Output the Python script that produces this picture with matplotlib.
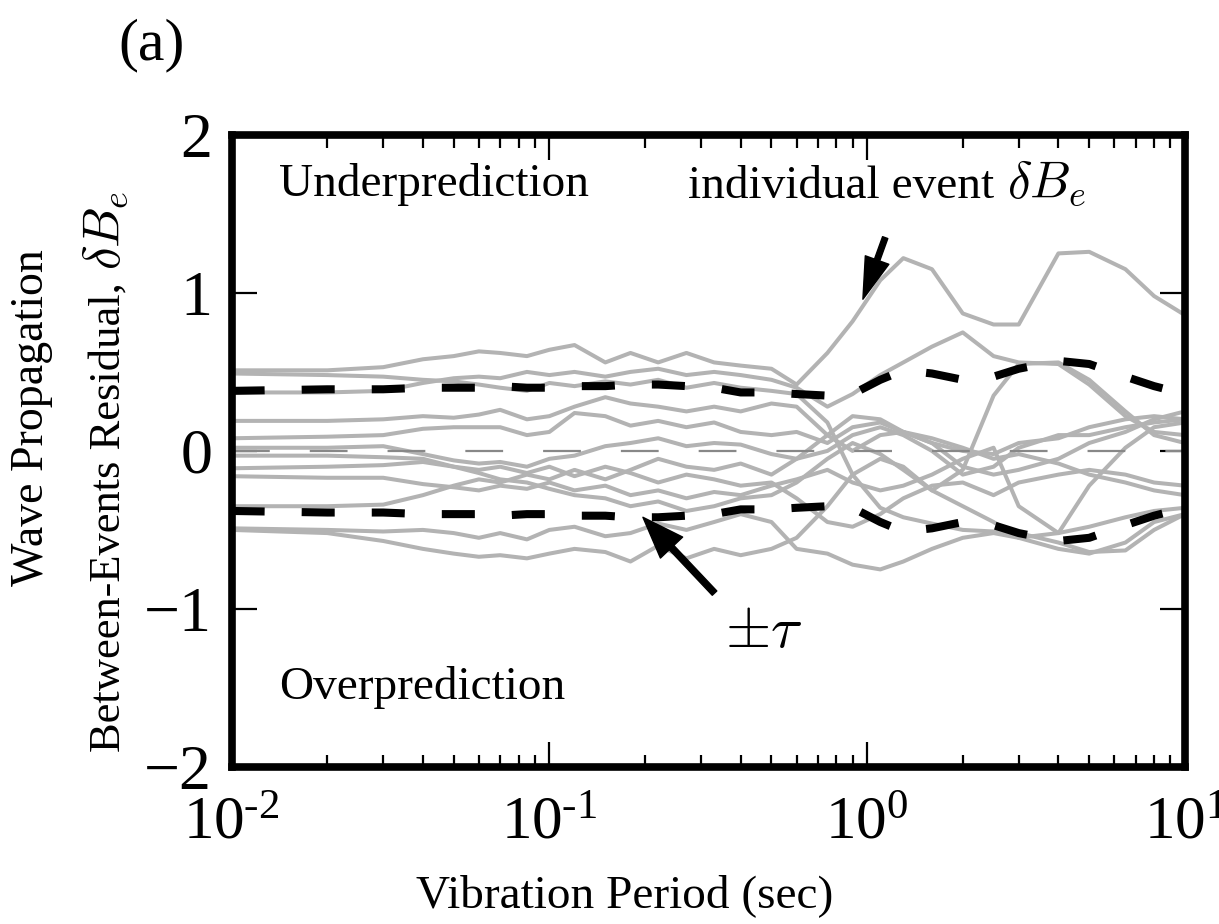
import math

import matplotlib
matplotlib.use("Agg")
import matplotlib.pyplot as plt
from matplotlib.ticker import FixedLocator, FuncFormatter, LogLocator, NullFormatter

plt.rcParams["font.family"] = ["Liberation Serif", "DejaVu Serif"]
plt.rcParams["mathtext.fontset"] = "cm"

# vibration period grid (sec) shared by all traces
periods = [0.01, 0.02, 0.03, 0.04, 0.05, 0.06, 0.07, 0.085, 0.1, 0.12, 0.15, 0.18,
           0.22, 0.27, 0.33, 0.4, 0.5, 0.6, 0.75, 0.9, 1.1, 1.3, 1.6, 2.0, 2.5,
           3.0, 4.0, 5.0, 6.5, 8.0, 10.0]

# between-event residuals of individual events
ev_a = [0.51, 0.51, 0.53, 0.58, 0.60, 0.63, 0.62, 0.60, 0.64, 0.67, 0.56, 0.62, 0.56, 0.62, 0.56, 0.54,
        0.52, 0.42, 0.62, 0.82, 1.08, 1.22, 1.15, 0.87, 0.80, 0.80, 1.25, 1.26, 1.15, 0.98, 0.86]
ev_b = [0.49, 0.48, 0.47, 0.45, 0.44, 0.42, 0.40, 0.38, 0.43, 0.41, 0.44, 0.42, 0.45, 0.40, 0.43, 0.40,
        0.38, 0.36, 0.18, -0.15, -0.36, -0.42, -0.46, -0.50, -0.51, -0.52, -0.58, -0.64, -0.63, -0.50, -0.40]
ev_c = [0.37, 0.37, 0.38, 0.43, 0.46, 0.47, 0.46, 0.50, 0.48, 0.50, 0.47, 0.50, 0.52, 0.48, 0.50, 0.48,
        0.45, 0.40, 0.28, 0.36, 0.48, 0.56, 0.66, 0.75, 0.60, 0.56, 0.55, 0.42, 0.22, 0.12, 0.10]
ev_d = [0.19, 0.19, 0.20, 0.22, 0.21, 0.23, 0.26, 0.20, 0.22, 0.28, 0.34, 0.30, 0.28, 0.25, 0.28, 0.25,
        0.30, 0.28, 0.10, 0.00, 0.10, 0.12, 0.08, 0.02, -0.05, -0.02, -0.08, -0.15, -0.20, -0.25, -0.28]
ev_e = [0.08, 0.09, 0.10, 0.14, 0.15, 0.15, 0.15, 0.10, 0.12, 0.24, 0.22, 0.16, 0.19, 0.15, 0.18, 0.12,
        0.10, 0.12, 0.05, 0.15, 0.18, 0.12, 0.05, -0.10, -0.15, -0.12, -0.05, 0.05, 0.12, 0.20, 0.25]
ev_f = [0.02, 0.02, 0.03, -0.02, -0.06, -0.08, -0.07, -0.10, -0.05, -0.03, 0.03, 0.05, 0.08, 0.03, 0.05, 0.04,
        -0.02, -0.05, 0.00, 0.10, 0.15, 0.10, 0.00, -0.15, -0.10, 0.02, 0.10, 0.10, 0.15, 0.18, 0.20]
ev_g = [-0.11, -0.10, -0.09, -0.07, -0.10, -0.12, -0.10, -0.14, -0.10, -0.16, -0.10, -0.14, -0.20, -0.15, -0.18, -0.22,
        -0.20, -0.30, -0.45, -0.48, -0.40, -0.30, -0.22, -0.20, -0.28, -0.20, -0.15, -0.12, -0.15, -0.20, -0.22]
ev_h = [-0.16, -0.17, -0.17, -0.21, -0.23, -0.25, -0.22, -0.24, -0.20, -0.25, -0.22, -0.28, -0.25, -0.30, -0.26, -0.28,
        -0.22, -0.18, -0.12, -0.20, -0.25, -0.22, -0.15, -0.05, 0.02, -0.35, -0.52, -0.22, 0.02, 0.15, 0.18]
ev_i = [-0.35, -0.35, -0.34, -0.28, -0.22, -0.18, -0.20, -0.15, -0.18, -0.12, -0.18, -0.12, -0.05, -0.10, -0.12, -0.08,
        -0.15, -0.05, 0.10, 0.22, 0.20, 0.12, 0.05, 0.00, -0.02, 0.05, 0.08, 0.15, 0.20, 0.22, 0.20]
ev_j = [-0.49, -0.50, -0.51, -0.50, -0.52, -0.55, -0.52, -0.56, -0.50, -0.48, -0.54, -0.52, -0.46, -0.50, -0.45, -0.40,
        -0.45, -0.62, -0.65, -0.72, -0.75, -0.70, -0.62, -0.55, -0.52, -0.55, -0.52, -0.48, -0.42, -0.38, -0.36]
ev_k = [-0.50, -0.52, -0.57, -0.62, -0.65, -0.67, -0.66, -0.68, -0.65, -0.62, -0.64, -0.70, -0.60, -0.68, -0.62, -0.66,
        -0.62, -0.55, -0.35, -0.15, -0.05, -0.10, -0.25, -0.35, -0.45, -0.55, -0.62, -0.65, -0.58, -0.45, -0.40]
ev_l = [-0.03, -0.03, -0.04, -0.05, -0.10, -0.14, -0.18, -0.20, -0.24, -0.28, -0.30, -0.35, -0.32, -0.38, -0.35, -0.30,
        -0.28, -0.20, -0.05, 0.05, -0.02, -0.12, -0.25, -0.12, 0.35, 0.55, 0.56, 0.45, 0.25, 0.10, 0.05]
events = [ev_a, ev_b, ev_c, ev_d, ev_e, ev_f, ev_g, ev_h, ev_i, ev_j, ev_k, ev_l]

# between-event standard deviation tau (plotted as +/- tau)
tau = [0.38, 0.39, 0.39, 0.40, 0.40, 0.40, 0.41, 0.40, 0.40, 0.41, 0.41, 0.42, 0.42, 0.41, 0.40, 0.37,
       0.37, 0.36, 0.35, 0.36, 0.45, 0.51, 0.49, 0.45, 0.47, 0.52, 0.57, 0.55, 0.47, 0.41, 0.36]

y_ticks = [-2, -1, 0, 1, 2]


def decade_label(x, pos):
    exp = int(round(math.log10(x)))
    if exp < 0:
        return r"$\mathregular{10^{\text{-}%d}}$" % (-exp)
    return r"$\mathregular{10^{%d}}$" % exp


W, H = 1219, 924
fig = plt.figure(figsize=(W / 100, H / 100), dpi=100)
ax = fig.add_axes([0.190, 0.170, 0.782, 0.684])

for ev in events:
    ax.plot(periods, ev, color="#b3b3b3", lw=2.9, zorder=2)

ax.axhline(0, color="#888888", lw=1.6, dashes=(17, 18), zorder=2.5)
ax.plot(periods, tau, color="black", lw=5.8, dashes=(4.1, 4.6), zorder=3)
ax.plot(periods, [-t for t in tau], color="black", lw=5.8, dashes=(4.1, 4.6), zorder=3)

ax.set_xscale("log")
ax.set_xlim(0.01, 10)
ax.set_ylim(-2, 2)
ax.yaxis.set_major_locator(FixedLocator(y_ticks))
ax.xaxis.set_major_locator(LogLocator(base=10, numticks=10))
ax.xaxis.set_minor_locator(LogLocator(base=10, subs=range(2, 10), numticks=20))
ax.xaxis.set_major_formatter(FuncFormatter(decade_label))
ax.xaxis.set_minor_formatter(NullFormatter())

for sp in ax.spines.values():
    sp.set_linewidth(5.5)
ax.tick_params(which="both", direction="in", top=True, right=True, labelsize=46)
ax.tick_params(axis="x", labelsize=44)
ax.tick_params(which="major", length=18, width=1.6)
ax.tick_params(which="minor", length=9, width=1.6)
ax.tick_params(axis="x", pad=21)
ax.tick_params(axis="y", pad=14)

ax.set_xlabel("Vibration Period (sec)", fontsize=34)
ax.xaxis.set_label_coords(0.412, -0.17)

# two-line y label; the math part is drawn a bit larger, as in the original
fig.text(43 / W, 1 - 418 / H, "Wave Propagation", fontsize=33, rotation=90,
         rotation_mode="anchor", ha="center", va="baseline")
fig.text(120 / W, 1 - 282 / H, "Between-Events Residual,", fontsize=32, rotation=90,
         rotation_mode="anchor", ha="right", va="baseline")
fig.text(120 / W, 1 - 270 / H, r"$\delta B_e$", fontsize=37, rotation=90,
         rotation_mode="anchor", ha="left", va="baseline")

ax.text(0.05, 0.921, "Underprediction", transform=ax.transAxes, fontsize=34, va="center", ha="left")
ax.text(0.05, 0.125, "Overprediction", transform=ax.transAxes, fontsize=34, va="center", ha="left")
ax.text(0.4785, 0.9, "individual event", transform=ax.transAxes, fontsize=34,
        va="baseline", ha="left")
ax.text(0.813, 0.9, r"$\delta B_e$", transform=ax.transAxes, fontsize=37,
        va="baseline", ha="left")
fig.text(152 / W, 1 - 45 / H, "(a)", fontsize=43, ha="center", va="center")

ax.annotate("", xy=(0.97, 0.96), xytext=(1.14, 1.35),
            arrowprops=dict(facecolor="black", edgecolor="black", width=4, headwidth=18, headlength=30),
            zorder=5)
ax.annotate("", xy=(0.197, -0.42), xytext=(0.331, -0.90),
            arrowprops=dict(facecolor="black", edgecolor="black", width=4.5, headwidth=22, headlength=30,
                            shrinkA=0, shrinkB=0),
            zorder=5)
ax.text(0.356, -1.15, r"$\pm\tau$", fontsize=42, ha="left", va="center")

fig.savefig("out.png", dpi=100)
